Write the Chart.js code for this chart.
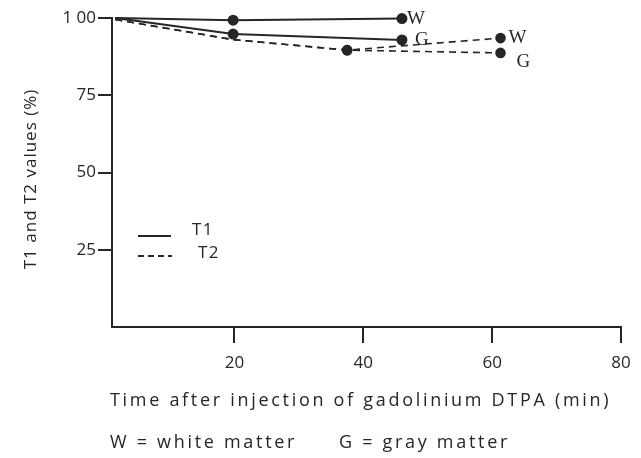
<!DOCTYPE html>
<html>
<head>
<meta charset="utf-8">
<script src="https://cdn.jsdelivr.net/npm/chart.js@4/dist/chart.umd.min.js"></script>
<style>
  html, body { margin: 0; padding: 0; background: #fff; }
  #wrap { width: 641px; height: 458px; position: relative; }
</style>
</head>
<body>
<div id="wrap"><canvas id="chart"></canvas></div>
<script>
// values (time in min, value in %)
const t1WhiteTime = [1.5, 19.8, 46];
const t1WhiteVal = [100, 99.3, 99.8];
const t1GrayTime = [1.5, 19.8, 46];
const t1GrayVal = [100, 94.8, 92.9];
const t2WhiteTime = [1.5, 19.8, 37.5, 61.3];
const t2WhiteVal = [99.5, 93, 89.6, 93.5];
const t2GrayTime = [1.5, 19.8, 37.5, 61.3];
const t2GrayVal = [99.5, 93, 89.6, 88.7];
const endLabels = ["W", "G", "W", "G"];
const xTicks = [20, 40, 60, 80];
const yTicks = [25, 50, 75, 100];
const xTitle = "Time after injection of gadolinium DTPA (min)";
const yTitle = "T1 and T2 values (%)";
const footNote = ["W = white matter", "G = gray matter"];

const ink = "#262626";

function toPoints(times, vals) {
  return times.map((t, i) => ({ x: t, y: vals[i] }));
}

// where the W / G letter sits next to the last point
const labelShift = [[5, 0], [13, 0], [8, 0], [16, 9]];

const endLabelPlugin = {
  id: "endLabels",
  afterDatasetsDraw(chart) {
    const ctx = chart.ctx;
    ctx.save();
    ctx.fillStyle = ink;
    ctx.font = "19px 'Liberation Serif'";
    ctx.textBaseline = "middle";
    chart.data.datasets.forEach((ds, i) => {
      const meta = chart.getDatasetMeta(i);
      const last = meta.data[meta.data.length - 1];
      ctx.fillText(endLabels[i], last.x + labelShift[i][0], last.y + labelShift[i][1]);
    });
    ctx.restore();
  },
};

const textPlugin = {
  id: "lineKey",
  afterDraw(chart) {
    const ctx = chart.ctx;
    ctx.save();
    ctx.strokeStyle = ink;
    ctx.lineWidth = 2;
    ctx.beginPath();
    ctx.moveTo(138, 236);
    ctx.lineTo(171, 236);
    ctx.stroke();
    ctx.setLineDash([6, 4]);
    ctx.beginPath();
    ctx.moveTo(138, 256);
    ctx.lineTo(172, 256);
    ctx.stroke();
    ctx.setLineDash([]);
    ctx.fillStyle = ink;
    ctx.font = "17px 'Open Sans'";
    ctx.letterSpacing = "1.5px";
    ctx.textBaseline = "middle";
    ctx.fillText("T1", 192, 230);
    ctx.fillText("T2", 198, 253);
    ctx.font = "18px 'Open Sans'";
    ctx.letterSpacing = "2.7px";
    ctx.fillText(xTitle, 110, 401);
    ctx.fillText(footNote[0], 110, 443);
    ctx.fillText(footNote[1], 339, 443);
    // y axis title, reading upwards
    ctx.font = "17px 'Open Sans'";
    ctx.letterSpacing = "1px";
    ctx.translate(31, 179);
    ctx.rotate(-Math.PI / 2);
    ctx.textAlign = "center";
    ctx.fillText(yTitle, 0, 0);
    ctx.restore();
  },
};

function markerRadius(hideIdx) {
  return (c) => (hideIdx.includes(c.dataIndex) ? 0 : 4.5);
}

function series(label, times, vals, dashed) {
  return {
    label: label,
    data: toPoints(times, vals),
    showLine: true,
    borderColor: ink,
    backgroundColor: ink,
    borderWidth: dashed ? 1.6 : 2,
    borderDash: dashed ? [7, 5] : [],
    pointRadius: markerRadius(dashed ? [0, 1] : [0]),
  };
}

new Chart(document.getElementById("chart"), {
  type: "scatter",
  data: {
    datasets: [
      series("T1 W", t1WhiteTime, t1WhiteVal, false),
      series("T1 G", t1GrayTime, t1GrayVal, false),
      series("T2 W", t2WhiteTime, t2WhiteVal, true),
      series("T2 G", t2GrayTime, t2GrayVal, true),
    ],
  },
  options: {
    responsive: true,
    maintainAspectRatio: false,
    animation: false,
    clip: false,
    layout: { padding: { top: 18, right: 20, left: 0, bottom: 0 } },
    plugins: {
      legend: { display: false },
      tooltip: { enabled: false },
    },
    scales: {
      x: {
        type: "linear",
        min: 1,
        max: 80,
        afterBuildTicks: (s) => { s.ticks = xTicks.map((v) => ({ value: v })); },
        afterFit: (s) => { s.height = 131; },
        border: { display: true, color: ink, width: 2 },
        grid: { drawOnChartArea: false, drawTicks: true, tickLength: 16, color: ink, lineWidth: 2 },
        ticks: { color: ink, font: { family: "Open Sans", size: 17 }, padding: 10 },
      },
      y: {
        min: 0,
        max: 100,
        afterBuildTicks: (s) => { s.ticks = yTicks.map((v) => ({ value: v })); },
        afterFit: (s) => { s.width = 112; },
        border: { display: true, color: ink, width: 2 },
        grid: { drawOnChartArea: false, drawTicks: true, tickLength: 14, color: ink, lineWidth: 2 },
        ticks: {
          color: ink,
          font: { family: "Open Sans", size: 17 },
          padding: 2,
          callback: (v) => (v === 100 ? "1 00" : String(v)),
        },
      },
    },
  },
  plugins: [endLabelPlugin, textPlugin],
});
</script>
</body>
</html>
